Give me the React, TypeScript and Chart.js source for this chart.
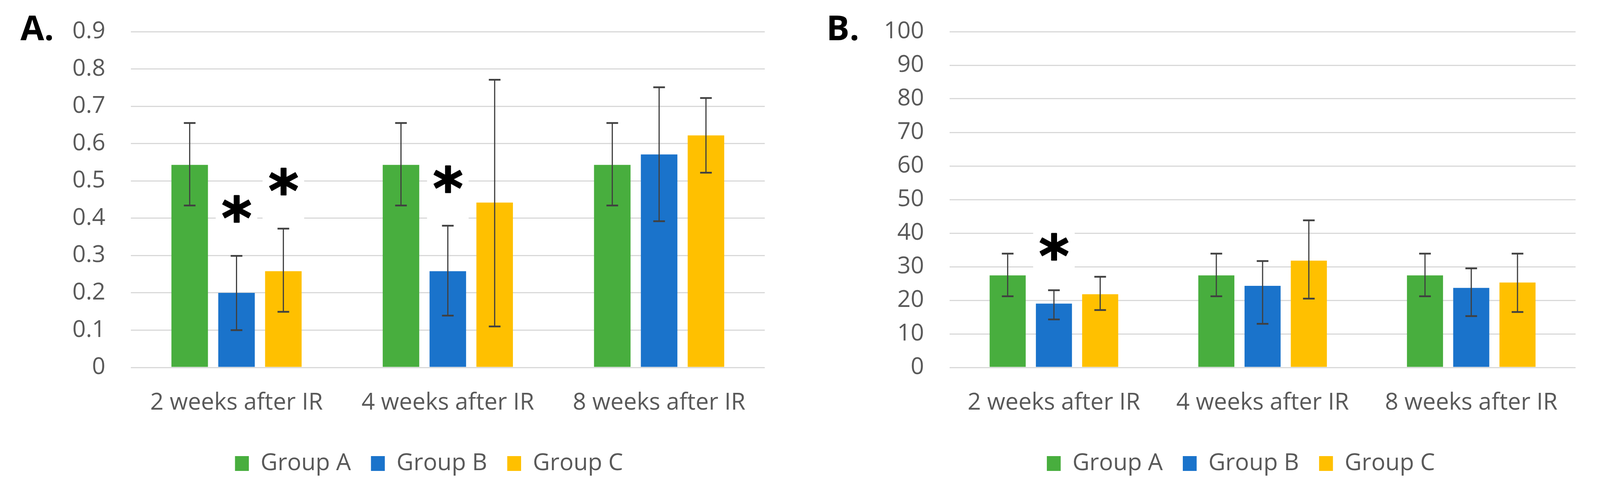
import React, { useEffect, useRef } from 'react';
import { Chart, registerables } from 'chart.js';

Chart.register(...registerables);

// ---------- data ----------
const categories = ['2 weeks after IR', '4 weeks after IR', '8 weeks after IR'];
const seriesNames = ['Group A', 'Group B', 'Group C'];

// Panel A
const aGroupA = [0.543, 0.543, 0.543];
const aGroupB = [0.2, 0.258, 0.571];
const aGroupC = [0.258, 0.442, 0.622];
const aErrPlusA = [0.112, 0.112, 0.112];
const aErrMinusA = [0.109, 0.109, 0.109];
const aErrPlusB = [0.099, 0.122, 0.18];
const aErrMinusB = [0.1, 0.119, 0.179];
const aErrPlusC = [0.114, 0.329, 0.1];
const aErrMinusC = [0.109, 0.332, 0.1];
const aTicks = [0, 0.1, 0.2, 0.3, 0.4, 0.5, 0.6, 0.7, 0.8, 0.9];
const aStars = [
  { series: 1, category: 0, value: 0.385, boxTop: 0.441, boxBottom: 0.316 },
  { series: 2, category: 0, value: 0.458, boxTop: 0.514, boxBottom: 0.384 },
  { series: 1, category: 1, value: 0.465, boxTop: 0.519, boxBottom: 0.391 },
];

// Panel B
const bGroupA = [27.4, 27.4, 27.4];
const bGroupB = [19.0, 24.3, 23.7];
const bGroupC = [21.8, 31.8, 25.3];
const bErrPlusA = [6.5, 6.5, 6.5];
const bErrMinusA = [6.2, 6.2, 6.2];
const bErrPlusB = [4.0, 7.4, 5.8];
const bErrMinusB = [4.7, 11.3, 8.4];
const bErrPlusC = [5.2, 12.0, 8.6];
const bErrMinusC = [4.7, 11.3, 8.8];
const bTicks = [0, 10, 20, 30, 40, 50, 60, 70, 80, 90, 100];
const bStars = [{ series: 1, category: 0, value: 31.45, boxTop: 41.1, boxBottom: 25.3 }];

// ---------- styles ----------
const COLORS = ['#48AE3E', '#1A73CB', '#FFC000'];
const FONT = '"Open Sans", sans-serif';
const STAR_FONT = '"DejaVu Sans", sans-serif';
const TEXT = '#595959';
const GRID = '#D9D9D9';
const ERR = '#404040';

// reference design size; the layout is scaled to the real viewport
const REF_W = 4389;
const REF_H = 1283;

const errorBarPlugin = {
  id: 'errorBars',
  afterDatasetsDraw(chart: any, _args: any, opts: any) {
    const ctx = chart.ctx;
    const y = chart.scales.y;
    const half = (opts && opts.capHalf) || 16;
    ctx.save();
    ctx.strokeStyle = ERR;
    chart.data.datasets.forEach((ds: any, i: number) => {
      const meta = chart.getDatasetMeta(i);
      meta.data.forEach((bar: any, j: number) => {
        const v = ds.data[j];
        const top = y.getPixelForValue(v + ds.errPlus[j]);
        const bot = y.getPixelForValue(v - ds.errMinus[j]);
        const x = bar.x;
        ctx.lineWidth = 3;
        ctx.beginPath();
        ctx.moveTo(x, top);
        ctx.lineTo(x, bot);
        ctx.stroke();
        ctx.lineWidth = 4.5;
        ctx.beginPath();
        ctx.moveTo(x - half, top);
        ctx.lineTo(x + half, top);
        ctx.moveTo(x - half, bot);
        ctx.lineTo(x + half, bot);
        ctx.stroke();
      });
    });
    ctx.restore();
  },
};

const starsPlugin = {
  id: 'sigStars',
  afterDatasetsDraw(chart: any, _args: any, opts: any) {
    const items = (opts && opts.items) || [];
    const boxW = opts.boxW || 114;
    const starH = opts.starH || 72;
    const ctx = chart.ctx;
    const y = chart.scales.y;
    items.forEach((it: any) => {
      const bar = chart.getDatasetMeta(it.series).data[it.category];
      const x = bar.x;
      const top = y.getPixelForValue(it.boxTop);
      const bottom = y.getPixelForValue(it.boxBottom);
      ctx.save();
      ctx.fillStyle = '#ffffff';
      ctx.fillRect(x - boxW / 2, top, boxW, bottom - top);
      ctx.font = `bold 100px ${STAR_FONT}`;
      const m = ctx.measureText('*');
      const h = m.actualBoundingBoxAscent + m.actualBoundingBoxDescent;
      const size = (100 * (starH - 3)) / (h || 40);
      ctx.font = `bold ${size}px ${STAR_FONT}`;
      const m2 = ctx.measureText('*');
      const cy = y.getPixelForValue(it.value);
      const base = cy + (m2.actualBoundingBoxAscent - m2.actualBoundingBoxDescent) / 2;
      const x0 = x + (m2.actualBoundingBoxLeft - m2.actualBoundingBoxRight) / 2;
      ctx.textAlign = 'left';
      ctx.textBaseline = 'alphabetic';
      ctx.fillStyle = '#000000';
      ctx.strokeStyle = '#000000';
      ctx.lineWidth = 3;
      ctx.lineJoin = 'round';
      ctx.strokeText('*', x0, base);
      ctx.fillText('*', x0, base);
      ctx.restore();
    });
  },
};

const panelLabelPlugin = {
  id: 'panelLabel',
  afterDraw(chart: any, _args: any, opts: any) {
    if (!opts || !opts.text) return;
    const ctx = chart.ctx;
    ctx.save();
    ctx.font = `bold ${opts.size}px ${FONT}`;
    ctx.fillStyle = '#000000';
    ctx.textAlign = 'left';
    ctx.textBaseline = 'alphabetic';
    ctx.fillText(opts.text, opts.x, opts.y);
    ctx.restore();
  },
};

// shifts the bottom legend sideways (reference legend is centred on the whole figure box)
const legendShiftPlugin = {
  id: 'legendShift',
  afterLayout(chart: any, _args: any, opts: any) {
    const lg = chart.legend;
    if (!lg || !opts || !opts.dx) return;
    lg.left += opts.dx;
    lg.right += opts.dx;
  },
};

function makeConfig(p: any, K: number, KY: number): any {
  const values = [p.a, p.b, p.c];
  const plus = [p.pa, p.pb, p.pc];
  const minus = [p.ma, p.mb, p.mc];
  const fs = 60 * KY;
  const legendPad = 55 * K;
  const plotTop = 81 * KY;
  const plotBottom = 941 * KY;
  const legendCenter = 1187 * KY;
  const labelCenter = 1032 * KY;
  const H = REF_H * KY;
  const legendTop = legendCenter - legendPad - fs / 2;
  const xH = legendTop - plotBottom;
  const legendH = fs + legendPad + 10;
  const padBottom = H - legendTop - legendH;
  const xTickPad = labelCenter - plotBottom - (fs * 1.2) / 2;

  return {
    type: 'bar',
    data: {
      labels: categories,
      datasets: seriesNames.map((name, i) => ({
        label: name,
        data: values[i],
        errPlus: plus[i],
        errMinus: minus[i],
        backgroundColor: COLORS[i],
        borderColor: COLORS[i],
        borderWidth: 0,
        barPercentage: 0.78,
        categoryPercentage: 0.665,
      })),
    },
    plugins: [errorBarPlugin, starsPlugin, panelLabelPlugin, legendShiftPlugin],
    options: {
      responsive: false,
      animation: false,
      layout: {
        padding: { left: 150 * K, right: p.padRight * K, top: plotTop, bottom: padBottom },
      },
      scales: {
        x: {
          grid: { display: false, drawTicks: false },
          border: { display: false },
          ticks: {
            padding: xTickPad,
            color: TEXT,
            font: { family: FONT, size: fs },
            maxRotation: 0,
            minRotation: 0,
            autoSkip: false,
          },
          afterFit: (s: any) => {
            s.height = xH;
          },
        },
        y: {
          min: 0,
          max: p.ticks[p.ticks.length - 1],
          grid: { color: GRID, lineWidth: 3, drawTicks: false },
          border: { display: false },
          ticks: {
            padding: 70 * K,
            color: TEXT,
            font: { family: FONT, size: fs },
            callback: (v: any) => String(v),
          },
          afterBuildTicks: (s: any) => {
            s.ticks = p.ticks.map((v: number) => ({ value: v }));
          },
          afterFit: (s: any) => {
            s.width = p.yWidth * K;
            s.paddingTop = 0;
            s.paddingBottom = 0;
          },
        },
      },
      plugins: {
        legend: {
          display: true,
          position: 'bottom',
          labels: {
            boxWidth: 38 * K,
            boxHeight: 38 * KY,
            padding: legendPad,
            color: TEXT,
            font: { family: FONT, size: fs },
          },
        },
        tooltip: { enabled: false },
        errorBars: { capHalf: 16 * K },
        sigStars: { items: p.stars, boxW: 114 * K, starH: 72 * KY },
        panelLabel: { text: p.label, x: p.labelX * K, y: 103 * KY, size: 88 * KY },
        legendShift: { dx: 53 * K },
      },
    },
  };
}

export default function App() {
  const refA = useRef<HTMLCanvasElement | null>(null);
  const refB = useRef<HTMLCanvasElement | null>(null);

  const vw = typeof window !== 'undefined' ? window.innerWidth : REF_W;
  const vh = typeof window !== 'undefined' ? window.innerHeight : REF_H;
  const K = Math.min(vw, REF_W) / REF_W;
  const KY = Math.min(vh, REF_H) / REF_H;
  const wA = Math.round(2230 * K);
  const wB = Math.round(2159 * K);
  const H = Math.round(REF_H * KY);

  useEffect(() => {
    let cancelled = false;
    let charts: any[] = [];
    const build = () => {
      if (cancelled || !refA.current || !refB.current) return;
      charts = [
        new Chart(
          refA.current,
          makeConfig(
            {
              a: aGroupA, b: aGroupB, c: aGroupC,
              pa: aErrPlusA, pb: aErrPlusB, pc: aErrPlusC,
              ma: aErrMinusA, mb: aErrMinusB, mc: aErrMinusC,
              ticks: aTicks, stars: aStars, label: 'A.', labelX: 56,
              yWidth: 209, padRight: 132,
            },
            K,
            KY
          )
        ),
        new Chart(
          refB.current,
          makeConfig(
            {
              a: bGroupA, b: bGroupB, c: bGroupC,
              pa: bErrPlusA, pb: bErrPlusB, pc: bErrPlusC,
              ma: bErrMinusA, mb: bErrMinusB, mc: bErrMinusC,
              ticks: bTicks, stars: bStars, label: 'B.', labelX: 37,
              yWidth: 225, padRight: 67,
            },
            K,
            KY
          )
        ),
      ];
    };
    const fonts: any = (document as any).fonts;
    if (fonts && fonts.load) {
      Promise.all([
        fonts.load(`60px ${FONT}`),
        fonts.load(`bold 88px ${FONT}`),
        fonts.load(`bold 100px ${STAR_FONT}`),
      ]).then(build, build);
    } else {
      build();
    }
    return () => {
      cancelled = true;
      charts.forEach((c) => c.destroy());
      charts = [];
    };
  }, []);

  return (
    <div
      style={{
        position: 'fixed',
        left: 0,
        top: 0,
        width: '100vw',
        height: '100vh',
        overflow: 'hidden',
        background: '#ffffff',
      }}
    >
      <canvas
        ref={refA}
        width={wA}
        height={H}
        style={{ position: 'absolute', left: 0, top: 0, width: wA, height: H, display: 'block' }}
      />
      <canvas
        ref={refB}
        width={wB}
        height={H}
        style={{ position: 'absolute', left: wA, top: 0, width: wB, height: H, display: 'block' }}
      />
    </div>
  );
}
